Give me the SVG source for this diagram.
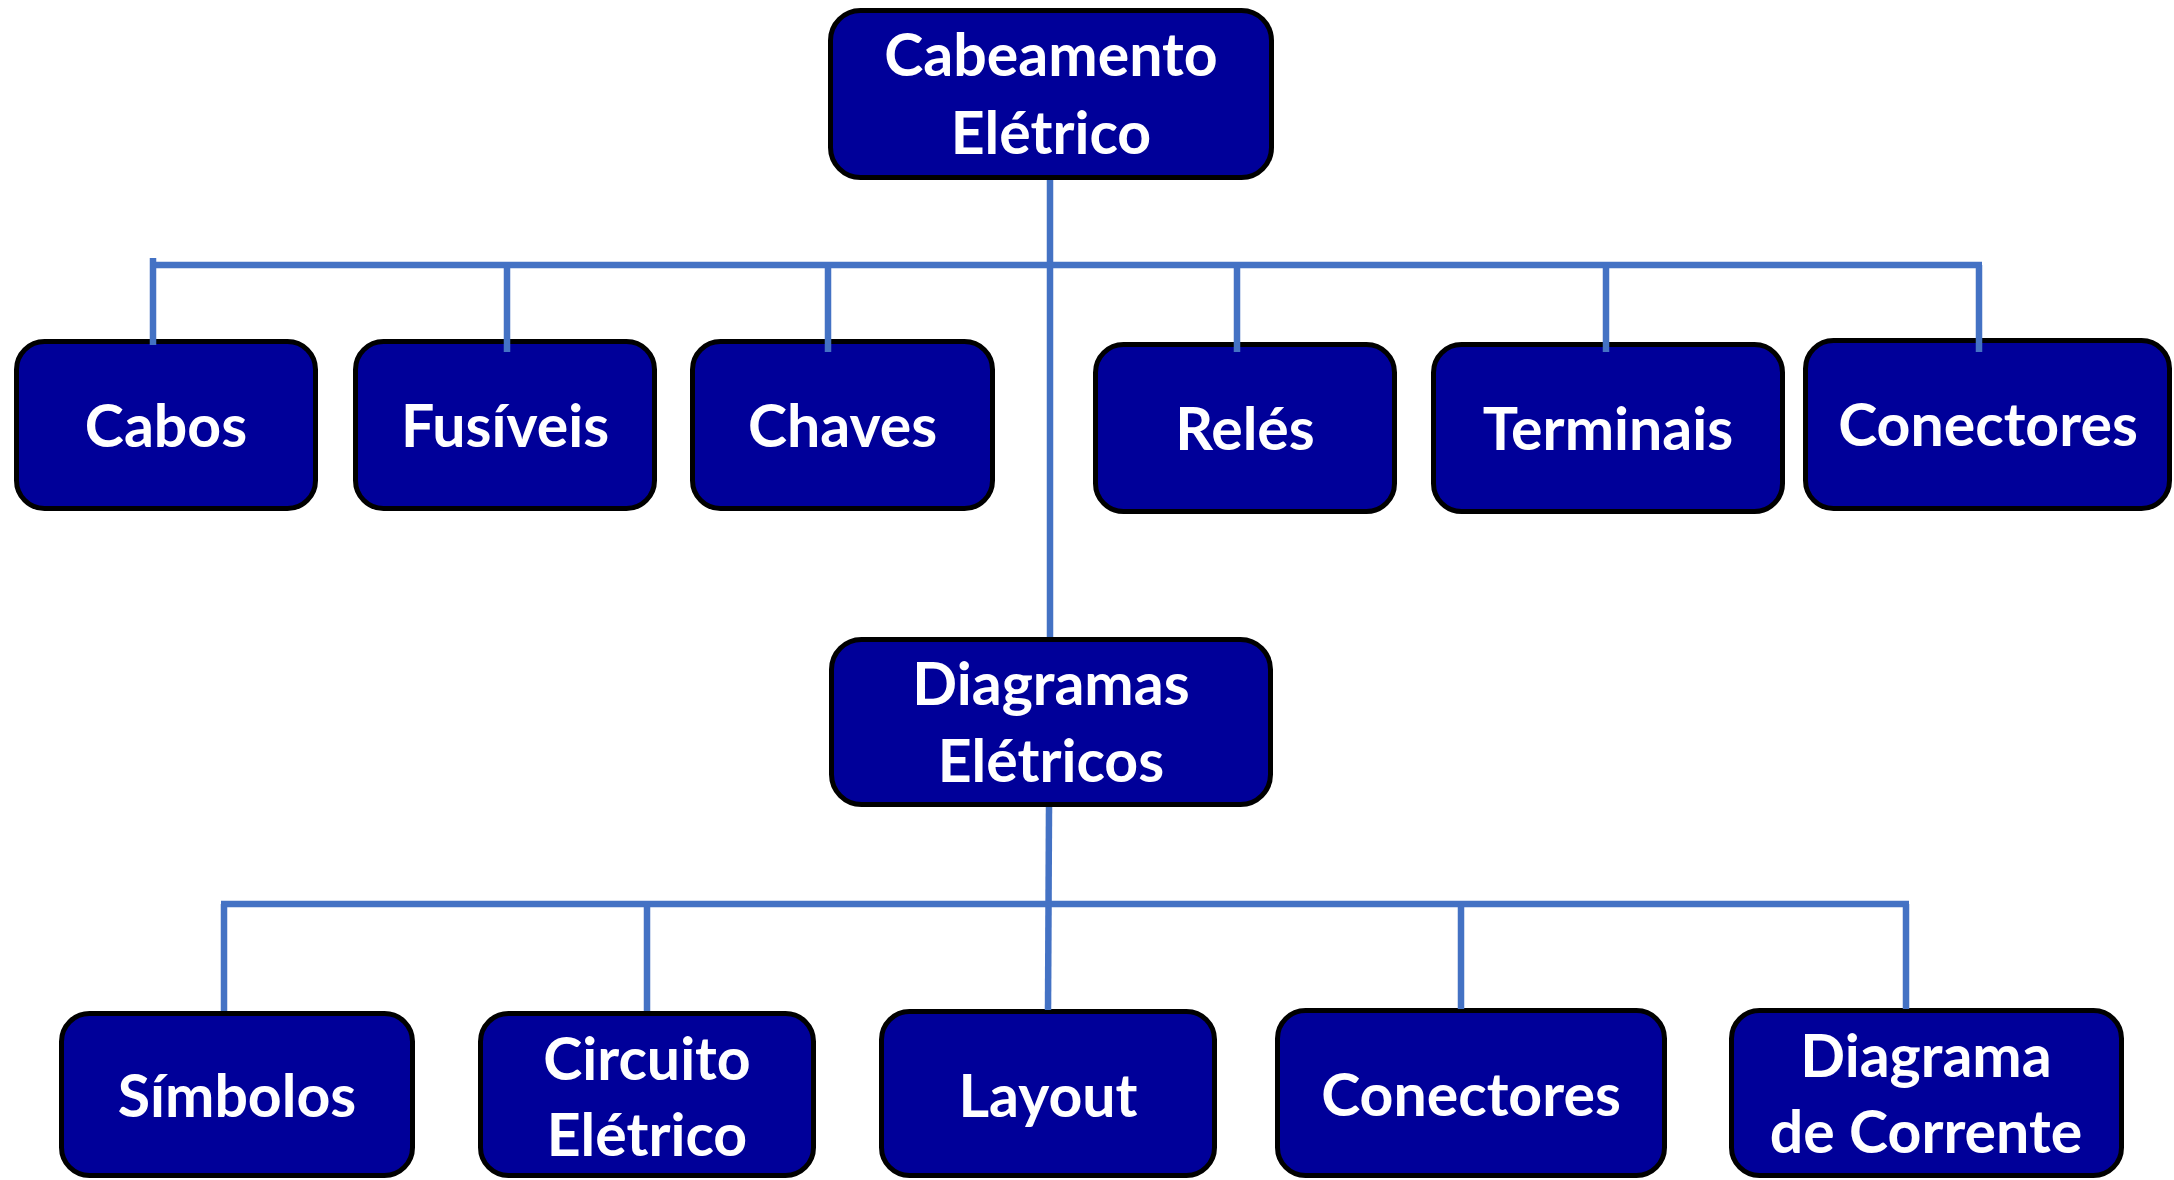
<svg xmlns="http://www.w3.org/2000/svg" width="2174" height="1180" viewBox="0 0 2174 1180">
<style>
.box{fill:#000099;stroke:#000;stroke-width:5}
.lbl{fill:#fff;font-family:Lato,"Open Sans","Liberation Sans",sans-serif;font-weight:bold;font-size:59px;text-anchor:middle}
.ln{stroke:#4472C4;stroke-width:6.5;fill:none}
</style>
<rect width="2174" height="1180" fill="#fff"/>
<g id="n-cabeamento"><rect class="box" x="830.5" y="10.5" width="441" height="167" rx="30"/><text class="lbl" x="1051" y="76">Cabeamento</text><text class="lbl" x="1051" y="154">Elétrico</text></g>
<g id="n-cabos"><rect class="box" x="16.5" y="341.5" width="299" height="167" rx="28"/><text class="lbl" x="166" y="447">Cabos</text></g>
<g id="n-fusiveis"><rect class="box" x="355.5" y="341.5" width="299" height="167" rx="28"/><text class="lbl" x="505" y="447">Fusíveis</text></g>
<g id="n-chaves"><rect class="box" x="692.5" y="341.5" width="300" height="167" rx="28"/><text class="lbl" x="842.5" y="447">Chaves</text></g>
<g id="n-reles"><rect class="box" x="1095.5" y="344.5" width="299" height="167" rx="28"/><text class="lbl" x="1245" y="450">Relés</text></g>
<g id="n-terminais"><rect class="box" x="1433.5" y="344.5" width="349" height="167" rx="28"/><text class="lbl" x="1608" y="450">Terminais</text></g>
<g id="n-conectores1"><rect class="box" x="1805.5" y="340.5" width="364" height="168" rx="28"/><text class="lbl" x="1988" y="446">Conectores</text></g>
<g id="n-diagramas"><rect class="box" x="831.5" y="639.5" width="439" height="165" rx="30"/><text class="lbl" x="1051" y="705">Diagramas</text><text class="lbl" x="1051" y="782">Elétricos</text></g>
<g id="n-simbolos"><rect class="box" x="61.5" y="1013.5" width="351" height="162" rx="28"/><text class="lbl" x="237" y="1117">Símbolos</text></g>
<g id="n-circuito"><rect class="box" x="480.5" y="1013.5" width="333" height="162" rx="28"/><text class="lbl" x="647" y="1080">Circuito</text><text class="lbl" x="647" y="1156">Elétrico</text></g>
<g id="n-layout"><rect class="box" x="881.5" y="1011.5" width="333" height="164" rx="28"/><text class="lbl" x="1048" y="1117">Layout</text></g>
<g id="n-conectores2"><rect class="box" x="1277.5" y="1010.5" width="387" height="165" rx="28"/><text class="lbl" x="1471" y="1116">Conectores</text></g>
<g id="n-diagrama-corrente"><rect class="box" x="1731.5" y="1010.5" width="390" height="165" rx="28"/><text class="lbl" x="1926" y="1077">Diagrama</text><text class="lbl" x="1926" y="1153">de Corrente</text></g>
<g id="connectors">
<path class="ln" d="M1050,180 V637"/>
<path class="ln" d="M150,265 H1982"/>
<path class="ln" d="M153,258 V345 M507,265 V352 M828,265 V352 M1237,265 V352 M1606,265 V352 M1979,265 V352"/>
<path class="ln" d="M1049,807 L1048,1010"/>
<path class="ln" d="M221,904 H1909"/>
<path class="ln" d="M224,904 V1011 M647,904 V1011 M1461,904 V1009 M1906,904 V1009"/>
</g>
</svg>
